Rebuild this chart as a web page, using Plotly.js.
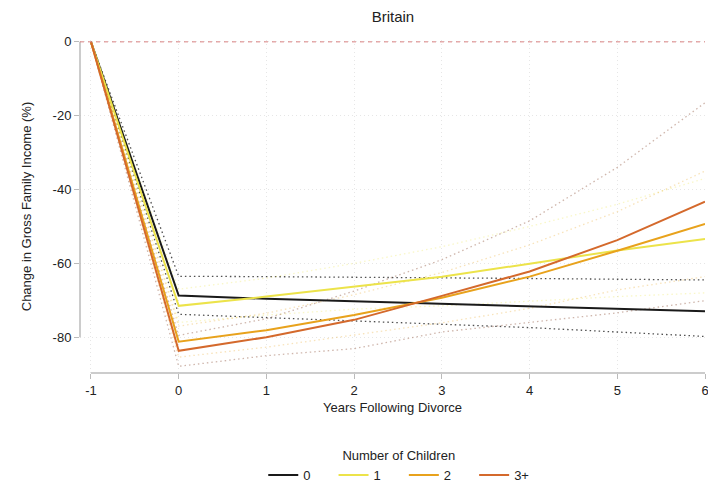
<!DOCTYPE html>
<html>
<head>
<meta charset="utf-8">
<script src="https://cdn.plot.ly/plotly-3.0.1.min.js"></script>
<style>html,body{margin:0;padding:0;background:#fff;}#chart{width:708px;height:486px;}</style>
</head>
<body>
<div id="chart"></div>
<script>
// ---- data ----
var years = [-1, 0, 1, 2, 3, 4, 5, 6];
var groupNames = ["0", "1", "2", "3+"];

var kids0     = [0, -68.7, -69.6, -70.3, -71.0, -71.7, -72.3, -73.0];
var kids0Hi   = [0, -63.5, -63.6, -63.7, -63.9, -64.1, -64.3, -64.5];
var kids0Lo   = [0, -73.8, -74.7, -75.6, -76.5, -77.4, -78.6, -79.8];

var kids1     = [0, -71.5, -69.0, -66.2, -63.6, -60.1, -56.5, -53.4];
var kids1Hi   = [0, -67.0, -64.0, -60.0, -55.5, -50.0, -44.0, -37.0];
var kids1Lo   = [0, -76.0, -74.0, -72.4, -71.5, -70.2, -69.0, -68.0];

var kids2     = [0, -81.2, -78.1, -74.0, -69.3, -63.6, -56.6, -49.3];
var kids2Hi   = [0, -77.0, -73.5, -68.5, -62.5, -55.0, -46.0, -35.0];
var kids2Lo   = [0, -85.4, -82.7, -79.5, -76.1, -72.2, -67.2, -63.6];

var kids3     = [0, -83.7, -80.0, -75.3, -68.8, -62.2, -53.7, -43.3];
var kids3Hi   = [0, -79.5, -75.0, -67.5, -59.0, -48.5, -34.0, -16.5];
var kids3Lo   = [0, -87.9, -85.0, -83.1, -78.6, -75.9, -73.4, -70.1];

var xTicks = [-1, 0, 1, 2, 3, 4, 5, 6];
var yTicks = [0, -20, -40, -60, -80];

// ---- styles ----
var mainColors = ["#1a1a1a", "#ece34a", "#e8a21c", "#d4692c"];
var ciColors = ["rgba(60,60,60,0.9)", "rgba(236,227,74,0.3)", "rgba(232,162,28,0.3)", "rgba(160,110,90,0.5)"];

var mains = [kids0, kids1, kids2, kids3];
var his = [kids0Hi, kids1Hi, kids2Hi, kids3Hi];
var los = [kids0Lo, kids1Lo, kids2Lo, kids3Lo];

var pad = "\u00a0\u00a0\u00a0\u00a0\u00a0";
var traces = [];
for (var i = 0; i < 4; i++) {
  [his[i], los[i]].forEach(function (arr) {
    traces.push({x: years, y: arr, type: "scatter", mode: "lines", showlegend: false, hoverinfo: "skip",
      line: {color: ciColors[i], width: 1.3, dash: "1.5px,3px"}});
  });
}
for (var j = 0; j < 4; j++) {
  traces.push({x: years, y: mains[j], type: "scatter", mode: "lines",
    name: groupNames[j] + (j < 3 ? pad : ""),
    line: {color: mainColors[j], width: 2}});
}

var font = "Liberation Sans, Arial, sans-serif";
var layout = {
  width: 708, height: 486,
  margin: {l: 80, r: 3, t: 40, b: 113},
  paper_bgcolor: "#fff", plot_bgcolor: "#fff",
  font: {family: font, size: 13, color: "#222"},
  title: {text: "Britain", font: {family: font, size: 15, color: "#222"}, x: 0.555, xanchor: "center", y: 0.965, yanchor: "middle"},
  xaxis: {
    range: [-1.125, 6], tickvals: xTicks, ticktext: xTicks.map(String),
    showline: false, zeroline: false, ticks: "outside", ticklen: 5, tickcolor: "#bbb",
    showgrid: true, gridcolor: "#e6e6e6", griddash: "1px,3px", gridwidth: 1,
    ticklabeloverflow: "allow",
    title: {text: "Years Following Divorce", font: {family: font, size: 13, color: "#222"}, standoff: 6},
    tickfont: {family: font, size: 13, color: "#222"}
  },
  yaxis: {
    range: [-89.7, 0.5], tickvals: yTicks, ticktext: yTicks.map(String),
    showline: false, zeroline: false, ticks: "outside", ticklen: 5, tickcolor: "#bbb",
    showgrid: true, gridcolor: "#e6e6e6", griddash: "1px,3px", gridwidth: 1,
    title: {text: "Change in Gross Family Income (%)", font: {family: font, size: 13, color: "#222"}, standoff: 18},
    tickfont: {family: font, size: 13, color: "#222"}
  },
  shapes: [
    {type: "line", xref: "paper", yref: "y", x0: 0, x1: 0, y0: 0, y1: -80, line: {color: "#bbb", width: 1.5}},
    {type: "line", xref: "x", yref: "paper", x0: -1, x1: 6, y0: 0, y1: 0, line: {color: "#bbb", width: 1.5}},
    {type: "line", xref: "paper", yref: "y", x0: 0, x1: 1, y0: 0, y1: 0, line: {color: "#d88080", width: 1, dash: "4px,4px"}}
  ],
  legend: {
    orientation: "h", x: 0.51, xanchor: "center", yref: "container", y: 0.088, yanchor: "top",
    title: {text: "Number of Children", side: "top center", font: {family: font, size: 13, color: "#222"}},
    font: {family: font, size: 13, color: "#222"}, itemwidth: 30
  },
  showlegend: true
};

Plotly.newPlot("chart", traces, layout, {displayModeBar: false, staticPlot: true});
</script>
</body>
</html>
